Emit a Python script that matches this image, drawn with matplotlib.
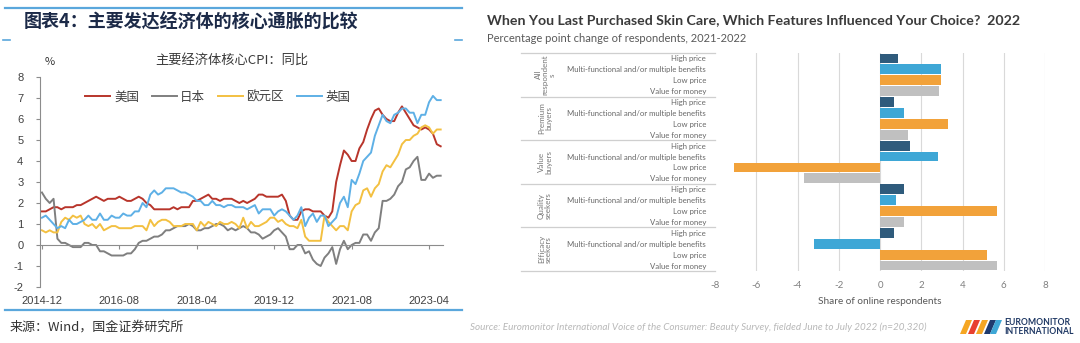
import numpy as np
import pandas as pd
import matplotlib
matplotlib.use("Agg")
import matplotlib.pyplot as plt
import matplotlib.transforms as mtransforms
from matplotlib.lines import Line2D
from matplotlib.patches import Polygon

CJK = ["Noto Sans CJK SC", "DejaVu Sans"]
LATIN = ["Lato", "DejaVu Sans"]
plt.rcParams["font.family"] = CJK
plt.rcParams["axes.unicode_minus"] = False

# ---------------- core CPI, y/y (%) ----------------
months = pd.period_range("2014-12", "2023-07", freq="M").strftime("%Y-%m").tolist()
tick_months = ["2014-12", "2016-08", "2018-04", "2019-12", "2021-08", "2023-04"]
series_names = ["美国", "日本", "欧元区", "英国"]
series_colors = ["#b8352b", "#7f7f7f", "#f3c041", "#5eb0e6"]

us = [1.6,
      1.6, 1.7, 1.8, 1.8, 1.7, 1.8, 1.8, 1.8, 1.9, 1.9, 2.0, 2.1,
      2.2, 2.3, 2.2, 2.1, 2.2, 2.2, 2.2, 2.3, 2.2, 2.1, 2.1, 2.2,
      2.3, 2.2, 2.0, 1.9, 1.7, 1.7, 1.7, 1.7, 1.7, 1.8, 1.7, 1.8,
      1.8, 1.8, 2.1, 2.1, 2.2, 2.3, 2.4, 2.2, 2.2, 2.1, 2.2, 2.2,
      2.2, 2.1, 2.0, 2.1, 2.0, 2.1, 2.2, 2.4, 2.4, 2.3, 2.3, 2.3,
      2.3, 2.4, 2.1, 1.4, 1.2, 1.2, 1.6, 1.7, 1.7, 1.6, 1.6, 1.6,
      1.4, 1.3, 1.6, 3.0, 3.8, 4.5, 4.3, 4.0, 4.0, 4.6, 4.9, 5.5,
      6.0, 6.4, 6.5, 6.2, 6.0, 5.9, 5.9, 6.3, 6.6, 6.3, 6.0, 5.7,
      5.6, 5.5, 5.6, 5.5, 5.3, 4.8, 4.7]
jp = [2.5,
      2.2, 2.0, 2.2, 0.3, 0.1, 0.1, 0.0, -0.1, -0.1, -0.1, 0.1, 0.1,
      0.0, 0.0, -0.3, -0.3, -0.4, -0.5, -0.5, -0.5, -0.5, -0.4, -0.4, -0.2,
      0.1, 0.2, 0.2, 0.3, 0.4, 0.4, 0.5, 0.7, 0.7, 0.8, 0.9, 0.9,
      0.9, 1.0, 0.9, 0.7, 0.7, 0.8, 0.8, 0.9, 1.0, 1.0, 0.9, 0.7,
      0.8, 0.7, 0.8, 0.9, 0.8, 0.6, 0.6, 0.5, 0.3, 0.4, 0.5, 0.7,
      0.8, 0.6, 0.4, -0.2, -0.2, 0.0, 0.0, -0.4, -0.3, -0.7, -0.9, -1.0,
      -0.6, -0.4, -0.1, -0.9, -0.2, 0.2, -0.2, 0.0, 0.1, 0.1, 0.5, 0.5,
      0.2, 0.6, 0.8, 2.1, 2.1, 2.2, 2.4, 2.8, 3.0, 3.6, 3.7, 4.0,
      4.2, 3.1, 3.1, 3.4, 3.2, 3.3, 3.3]
ez = [0.7,
      0.6, 0.7, 0.6, 0.6, 1.1, 1.3, 1.2, 1.4, 1.3, 1.4, 1.0, 0.9,
      1.0, 0.8, 1.0, 0.7, 0.8, 0.9, 0.9, 0.8, 0.8, 0.8, 0.8, 0.9,
      0.9, 0.9, 0.7, 1.2, 0.9, 1.1, 1.2, 1.2, 1.1, 0.9, 0.9, 0.9,
      1.0, 1.0, 1.0, 0.7, 1.1, 0.9, 1.1, 1.0, 0.9, 1.1, 1.0, 1.0,
      1.1, 1.0, 0.8, 1.3, 0.8, 1.1, 0.9, 0.9, 1.0, 1.1, 1.3, 1.3,
      1.1, 1.2, 1.0, 0.9, 0.9, 0.8, 1.2, 0.4, 0.2, 0.2, 0.2, 0.2,
      1.4, 1.1, 0.9, 0.7, 0.9, 0.9, 0.7, 1.6, 1.9, 2.0, 2.6, 2.7,
      2.3, 2.7, 2.9, 3.5, 3.8, 3.7, 4.0, 4.3, 4.8, 5.0, 5.0, 5.2,
      5.3, 5.6, 5.7, 5.6, 5.3, 5.5, 5.5]
uk = [1.3,
      1.4, 1.2, 1.0, 0.8, 0.9, 0.8, 1.2, 1.0, 1.0, 1.1, 1.2, 1.4,
      1.2, 1.2, 1.5, 1.2, 1.2, 1.4, 1.3, 1.3, 1.5, 1.4, 1.4, 1.6,
      1.6, 2.0, 1.8, 2.4, 2.6, 2.4, 2.5, 2.7, 2.7, 2.7, 2.6, 2.5,
      2.5, 2.4, 2.3, 2.1, 2.1, 1.9, 1.9, 2.1, 1.9, 1.9, 1.8, 1.9,
      1.9, 1.8, 1.8, 1.8, 1.7, 1.8, 1.9, 1.5, 1.7, 1.7, 1.7, 1.4,
      1.6, 1.7, 1.6, 1.4, 1.2, 1.4, 1.8, 0.9, 1.3, 1.5, 1.1, 1.4,
      1.4, 0.9, 1.1, 1.3, 2.0, 2.3, 1.8, 3.1, 2.9, 3.4, 4.0, 4.2,
      4.4, 5.2, 5.7, 6.2, 5.9, 5.8, 6.2, 6.3, 6.5, 6.5, 6.3, 6.3,
      5.8, 6.2, 6.2, 6.8, 7.1, 6.9, 6.9]

# ---------------- skin care survey ----------------
segments = ["All\nrespondent\ns", "Premium\nbuyers", "Value\nbuyers",
            "Quality\nseekers", "Efficacy\nseekers"]
features = ["High price", "Multi-functional and/or multiple benefits",
            "Low price", "Value for money"]
feature_colors = ["#2f5b7c", "#3ea7d6", "#f2a23a", "#c0c0c0"]
high_price = [0.85, 0.66, 1.47, 1.17, 0.66]
multi_benefit = [2.96, 1.17, 2.79, 0.79, -3.20]
low_price = [2.96, 3.28, -7.07, 5.67, 5.18]
value_for_money = [2.86, 1.36, -3.67, 1.17, 5.67]
x_ticks = list(range(-8, 9, 2))

W, H = 1080, 343
fig = plt.figure(figsize=(W / 100, H / 100), dpi=100)
fig.patch.set_facecolor("white")


def fx(px):
    return px / W


def fy(py):
    return 1 - py / H


# ======== left panel ========
rule_color = "#5aa7dc"
fig.add_artist(Line2D([fx(5), fx(462)], [fy(8), fy(8)], color=rule_color, lw=1.6))
fig.add_artist(Line2D([fx(5), fx(462)], [fy(310), fy(310)], color=rule_color, lw=1.6))
for a, b in [(3, 10), (455, 462)]:
    fig.add_artist(Line2D([fx(a), fx(b)], [fy(40), fy(40)], color=rule_color, lw=1.2))

fig.text(fx(24), fy(22), "图表4：主要发达经济体的核心通胀的比较", fontsize=13,
         fontweight="bold", color="#1c2a48", va="center", ha="left", family=CJK)
fig.text(fx(232), fy(60), "主要经济体核心CPI：同比", fontsize=9.5, color="#3a3a3a",
         va="center", ha="center", family=CJK)
fig.text(fx(50), fy(62), "%", fontsize=8, color="#333333", va="center", ha="center")
fig.text(fx(10), fy(327), "来源：Wind，国金证券研究所", fontsize=9.4, color="#333333",
         va="center", ha="left", family=CJK)

ax1 = fig.add_axes([fx(40), fy(287), fx(403), (287 - 77) / H])
x = np.arange(len(months))
for name, vals, col in zip(series_names, [us, jp, ez, uk], series_colors):
    ax1.plot(x, vals, color=col, lw=1.4, label=name)

ax1.set_xlim(-0.5, 103.6)
ax1.set_ylim(-2, 8)
ax1.set_yticks(range(-2, 9))
ax1.set_xticks([months.index(m) for m in tick_months], labels=tick_months)
for s in ["top", "right"]:
    ax1.spines[s].set_visible(False)
ax1.spines["bottom"].set_position(("data", 0))
ax1.spines["bottom"].set_color("#8c8c8c")
ax1.spines["left"].set_color("#8c8c8c")
ax1.tick_params(axis="y", direction="out", length=3, color="#8c8c8c",
                labelsize=8, labelcolor="#404040", pad=9)
ax1.tick_params(axis="x", direction="out", length=3, color="#8c8c8c",
                labelsize=8, labelcolor="#404040", pad=34)
for lab in ax1.get_xticklabels() + ax1.get_yticklabels():
    lab.set_family(["Liberation Sans", "DejaVu Sans"])

ax1.legend(loc="center left", bbox_to_anchor=(fx(79), fy(97)),
           bbox_transform=fig.transFigure, ncol=4, frameon=False, fontsize=9,
           handlelength=2.0, handletextpad=0.3, columnspacing=1.0, borderpad=0,
           labelcolor="#404040")

# ======== right panel ========
fig.text(fx(487), fy(20),
         "When You Last Purchased Skin Care, Which Features Influenced Your Choice?  2022",
         fontsize=10.2, fontweight="bold", color="#3a3a3a", va="center", ha="left", family=LATIN)
fig.text(fx(487), fy(38), "Percentage point change of respondents, 2021-2022",
         fontsize=8.0, color="#595959", va="center", ha="left", family=LATIN)

ax2 = fig.add_axes([fx(715), fy(271), fx(330), 218 / H])
table = np.array([high_price, multi_benefit, low_price, value_for_money]).T
n_feat = len(features)
positions = []
for g in range(len(segments)):
    for k in range(n_feat):
        pos = g * n_feat + k
        positions.append(pos)
        ax2.barh(pos, table[g, k], height=0.9, color=feature_colors[k], zorder=3)

ax2.set_ylim(len(positions) - 0.5, -0.5)
ax2.set_xlim(-8, 8)
ax2.set_xticks(x_ticks)
ax2.set_yticks(positions, labels=features * len(segments))
ax2.grid(axis="x", color="#d9d9d9", lw=0.8, zorder=0)
ax2.set_axisbelow(True)
ax2.get_xgridlines()[0].set_visible(False)
for s in ax2.spines.values():
    s.set_visible(False)
ax2.tick_params(axis="y", length=0, pad=6.5, labelsize=5.6, labelcolor="#666666")
ax2.tick_params(axis="x", length=0, pad=7, labelsize=7, labelcolor="#808080")
for lab in ax2.get_xticklabels() + ax2.get_yticklabels():
    lab.set_family(LATIN)

blend = mtransforms.blended_transform_factory(ax2.transAxes, ax2.transData)
box_left = (521 - 715) / 330
for g in range(len(segments) + 1):
    yb = g * n_feat - 0.5
    ax2.plot([box_left, 0], [yb, yb], transform=blend, clip_on=False,
             color="#cfcfcf", lw=0.9)
for g, seg in enumerate(segments):
    ax2.text((545 - 715) / 330, g * n_feat + (n_feat - 1) / 2, seg, transform=blend,
             rotation=90, ha="center", va="center", fontsize=5.8, color="#777777",
             linespacing=1.0, family=LATIN)

fig.text(fx(880), fy(302), "Share of online respondents", fontsize=7.2,
         color="#595959", ha="center", va="center", family=LATIN)
fig.text(fx(470), fy(327),
         "Source: Euromonitor International Voice of the Consumer: Beauty Survey, fielded June to July 2022 (n=20,320)",
         fontsize=7.1, style="italic", color="#b8b8b8", ha="left", va="center", family=LATIN)

# brand mark
stripes = [("#f5a623", 960), ("#e8402f", 968), ("#f5a623", 976), ("#1f3b6e", 984), ("#3ea7d6", 990)]
for col, x0 in stripes:
    pts = [(x0, 334), (x0 + 6, 334), (x0 + 12, 320), (x0 + 6, 320)]
    fig.add_artist(Polygon([(fx(px), fy(py)) for px, py in pts], closed=True,
                           facecolor=col, edgecolor="none", transform=fig.transFigure))
fig.text(fx(1004), fy(327), "EUROMONITOR\nINTERNATIONAL", fontsize=6.2,
         fontweight="bold", color="#1f3864", ha="left", va="center",
         linespacing=0.95, family=LATIN)

fig.savefig("out.png", dpi=100, facecolor="white")
